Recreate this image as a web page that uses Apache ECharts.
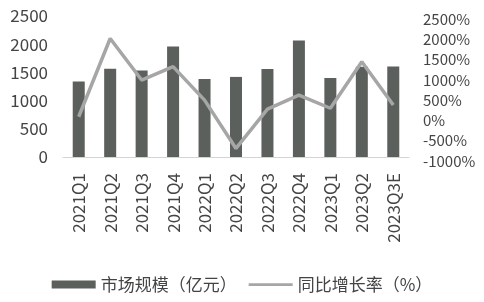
<!DOCTYPE html>
<html>
<head>
<meta charset="utf-8">
<script src="https://cdn.jsdelivr.net/npm/echarts@6/dist/echarts.min.js"></script>
<style>
html,body{margin:0;padding:0;background:#fff;}
#main{width:484px;height:302px;}
</style>
</head>
<body>
<div id="main"></div>
<script>
var quarters = ['2021Q1','2021Q2','2021Q3','2021Q4','2022Q1','2022Q2','2022Q3','2022Q4','2023Q1','2023Q2','2023Q3E'];
var marketSize = [1340, 1565, 1535, 1960, 1385, 1420, 1560, 2065, 1400, 1600, 1605];
var yoyRate = [90, 2020, 995, 1325, 500, -690, 280, 625, 300, 1445, 380];

var myChart = echarts.init(document.getElementById('main'));
var font = '"Noto Sans CJK SC", "Noto Sans", sans-serif';

var option = {
    textStyle: { fontFamily: font },
    animation: false,
    legend: {
        bottom: 4,
        left: 'center',
        itemGap: 12,
        itemWidth: 44,
        itemHeight: 8,
        textStyle: { fontSize: 17, color: '#444', fontFamily: font },
        data: [
            { name: '市场规模（亿元）', icon: 'rect' },
            { name: '同比增长率（%）', icon: 'path://M0,0 L48,0 L48,3 L0,3 Z' }
        ]
    },
    grid: [
        { left: 63, right: 75, top: 16, bottom: 145 },
        { left: 63, right: 75, top: 19, bottom: 141 }
    ],
    xAxis: [
        {
            type: 'category',
            gridIndex: 0,
            data: quarters,
            axisLine: { lineStyle: { color: '#d4d4d4', width: 1 } },
            axisTick: { show: false },
            axisLabel: { rotate: 90, margin: 16, fontSize: 17, color: '#444', fontFamily: font }
        },
        {
            type: 'category',
            gridIndex: 1,
            data: quarters,
            show: false
        }
    ],
    yAxis: [
        {
            type: 'value',
            gridIndex: 0,
            min: 0,
            max: 2500,
            interval: 500,
            splitLine: { show: false },
            axisLine: { show: false },
            axisTick: { show: false },
            axisLabel: {
                margin: 15, fontSize: 17, color: '#444', fontFamily: font,
                formatter: function (v) { return String(v); }
            }
        },
        {
            type: 'value',
            gridIndex: 1,
            position: 'right',
            min: -1000,
            max: 2500,
            interval: 500,
            splitLine: { show: false },
            axisLine: { show: false },
            axisTick: { show: false },
            axisLabel: {
                margin: 14, fontSize: 15, color: '#444', fontFamily: font,
                formatter: function (v) { return v + '%'; }
            }
        }
    ],
    series: [
        {
            name: '市场规模（亿元）',
            type: 'bar',
            xAxisIndex: 0,
            yAxisIndex: 0,
            barWidth: 12,
            itemStyle: { color: '#5b605c' },
            data: marketSize
        },
        {
            name: '同比增长率（%）',
            type: 'line',
            xAxisIndex: 1,
            yAxisIndex: 1,
            symbol: 'none',
            lineStyle: { color: '#a6a6a6', width: 3.5 },
            itemStyle: { color: '#a6a6a6' },
            data: yoyRate
        }
    ]
};

myChart.setOption(option);
</script>
</body>
</html>
